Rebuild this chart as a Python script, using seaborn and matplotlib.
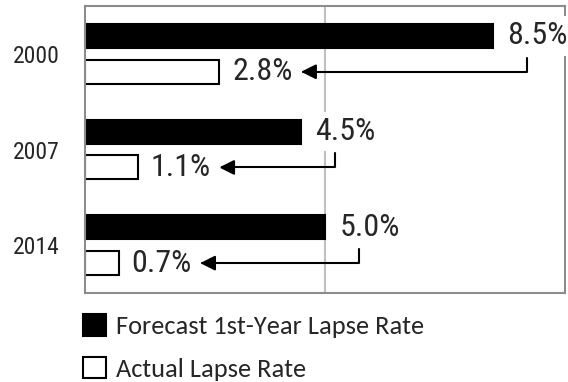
import matplotlib
matplotlib.use('Agg')
import matplotlib.pyplot as plt
import seaborn as sns
import pandas as pd
from matplotlib.patches import Patch

# Data
years = ['2000', '2007', '2014']
forecast = [8.5, 4.5, 5.0]
actual = [2.8, 1.1, 0.7]
series = ['Forecast 1st-Year Lapse Rate', 'Actual Lapse Rate']

df = pd.DataFrame({
    'Year': years * 2,
    'Rate': forecast + actual,
    'Series': [series[0]] * len(years) + [series[1]] * len(years),
})

sns.set_style('white')
chart_font = ['Roboto Condensed', 'DejaVu Sans']
legend_font = ['Carlito', 'DejaVu Sans']
plt.rcParams['font.family'] = chart_font

fig = plt.figure(figsize=(5.68, 3.82), dpi=100)
ax = fig.add_axes([85 / 568, 1 - 293 / 382, 480 / 568, 287 / 382])

ax.axvline(5, color='#c0c0c0', lw=1.5, zorder=0)
sns.barplot(data=df, y='Year', x='Rate', hue='Series', orient='h',
            palette=['black', 'white'], saturation=1, width=0.75, gap=0.33,
            edgecolor='black', linewidth=1.5, legend=False, ax=ax, zorder=2)

ax.set_xlim(0, 10)
ax.set_xticks([])
ax.set_xlabel('')
ax.set_ylabel('')
ax.tick_params(axis='y', which='major', length=0, pad=18, labelsize=17)
ax.set_yticks([0.5, 1.5], minor=True)
ax.tick_params(axis='y', which='minor', direction='in', length=4.5,
               color='#999999', width=1.5)
for sp in ax.spines.values():
    sp.set_visible(True)
    sp.set_color('#8c8c8c')
    sp.set_linewidth(1.5)

# Value labels and arrows
off = 0.1875
for i in range(len(years)):
    ax.text(forecast[i] + 0.30, i - off, f'{forecast[i]:.1f}%', va='center',
            ha='left', fontsize=23,
            bbox=dict(facecolor='white', edgecolor='none', pad=4))
    t = ax.text(actual[i] + 0.27, i + off, f'{actual[i]:.1f}%', va='center',
                ha='left', fontsize=23)
    ax.annotate('', xy=(1, 0.5), xycoords=t,
                xytext=(forecast[i] + 0.7, i + 0.04), textcoords='data',
                arrowprops=dict(arrowstyle='-|>,head_length=0.9,head_width=0.45',
                                connectionstyle='angle,angleA=90,angleB=0,rad=0',
                                color='black', lw=1.5, shrinkA=0, shrinkB=6,
                                mutation_scale=10))

handles = [Patch(facecolor='black', edgecolor='black', lw=1.5),
           Patch(facecolor='white', edgecolor='black', lw=1.5)]
fig.legend(handles, series, loc='upper left',
           bbox_to_anchor=(83 / 568, 1 - 314 / 382), frameon=False,
           prop={'family': legend_font, 'size': 19},
           handlelength=0.88, handleheight=0.88, handletextpad=0.36,
           labelspacing=0.72, borderpad=0, borderaxespad=0)

fig.savefig('out.png', dpi=100)
